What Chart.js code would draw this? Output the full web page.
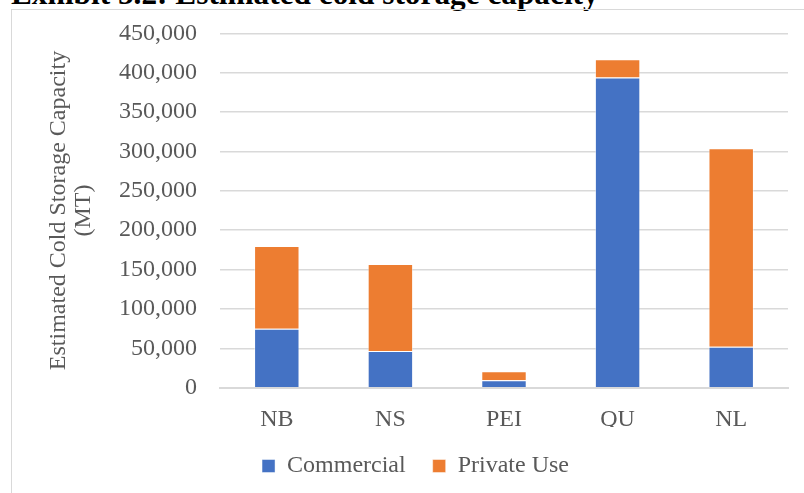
<!DOCTYPE html>
<html>
<head>
<meta charset="utf-8">
<script src="https://cdn.jsdelivr.net/npm/chart.js@4.4.1/dist/chart.umd.min.js"></script>
<style>
    body { margin: 0; background: #fff; overflow: hidden; width: 804px; height: 493px; position: relative; }
    #heading {
        position: absolute; left: 11px; top: -22px;
        font: bold 31.3px "Liberation Serif", "Times New Roman", serif;
        line-height: 31px; color: #000; white-space: nowrap;
    }
    #box {
        position: absolute; left: 11px; top: 9px;
        width: 808px; height: 498px;
        border: 1px solid #d9d9d9;
    }
</style>
</head>
<body>
<div id="heading">Exhibit 5.2: Estimated cold storage capacity</div>
<div id="box"><canvas id="storageChart" width="808" height="498"></canvas></div>
<script>
    // values (metric tonnes)
    const provinces = ['NB', 'NS', 'PEI', 'QU', 'NL'];
    const commercial = [75000, 46500, 9500, 394000, 52000];
    const privateUse = [105000, 110500, 11500, 23000, 252000];
    const yMax = 450000;
    const yStep = 50000;

    const serif = '"Liberation Serif", "Times New Roman", serif';
    const grey = '#595959';

    const ctx = document.getElementById('storageChart').getContext('2d');

    new Chart(ctx, {
        type: 'bar',
        data: {
            labels: provinces,
            datasets: [
                {
                    label: 'Commercial',
                    data: commercial,
                    backgroundColor: '#4472C4',
                    borderColor: 'rgba(255,255,255,0.45)',
                    borderWidth: 1
                },
                {
                    label: 'Private Use',
                    data: privateUse,
                    backgroundColor: '#ED7D31',
                    borderColor: 'rgba(255,255,255,0.45)',
                    borderWidth: 1
                }
            ]
        },
        options: {
            responsive: false,
            animation: false,
            categoryPercentage: 1,
            barPercentage: 0.4,
            layout: {
                // left padding shifts the centred legend over to match
                padding: { top: 23.3, right: 32, left: 31, bottom: 20 }
            },
            plugins: {
                legend: {
                    position: 'bottom',
                    labels: {
                        boxWidth: 13,
                        boxHeight: 13,
                        padding: 27,
                        color: grey,
                        font: { family: serif, size: 24 }
                    }
                },
                tooltip: { enabled: false }
            },
            scales: {
                x: {
                    stacked: true,
                    grid: { display: false },
                    border: { color: '#d9d9d9', width: 2 },
                    ticks: {
                        color: grey,
                        padding: 9.5,
                        font: { family: serif, size: 24 }
                    },
                    afterFit: function(scale) {
                        scale.height = 39.3;
                    }
                },
                y: {
                    stacked: true,
                    min: 0,
                    max: yMax,
                    border: { display: false },
                    grid: { color: '#d9d9d9', lineWidth: 1.5, drawTicks: false },
                    ticks: {
                        stepSize: yStep,
                        padding: 23,
                        color: grey,
                        font: { family: serif, size: 24 },
                        callback: function(v) {
                            return v.toLocaleString('en-US');
                        }
                    },
                    title: {
                        display: true,
                        text: ['Estimated Cold Storage Capacity', '(MT)'],
                        color: grey,
                        font: { family: serif, size: 24, lineHeight: 25 / 24 },
                        padding: { top: 3.5, bottom: 0 }
                    },
                    afterFit: function(scale) {
                        scale.width = 177;
                        // tick padding would otherwise push the plot top down
                        scale.paddingTop = 0;
                        scale.paddingBottom = 0;
                    }
                }
            }
        }
    });
</script>
</body>
</html>
